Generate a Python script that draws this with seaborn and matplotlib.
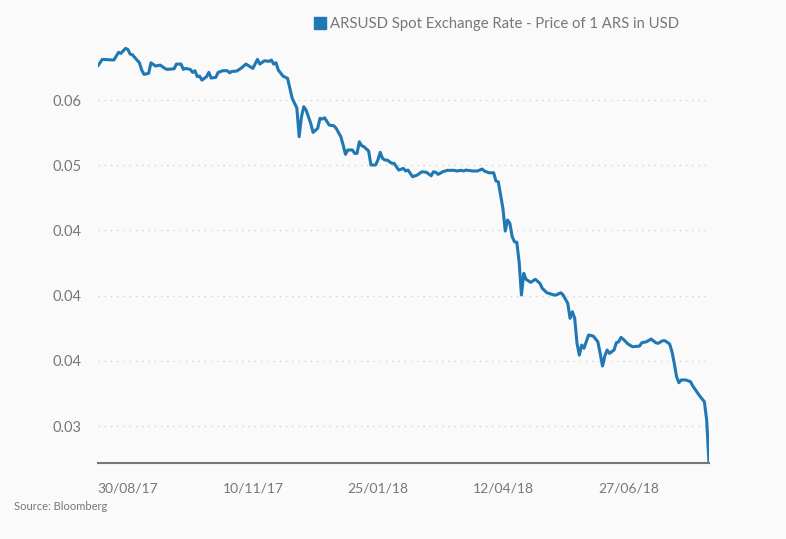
import matplotlib
matplotlib.use("Agg")
import matplotlib.pyplot as plt
from matplotlib.lines import Line2D
from matplotlib.ticker import FormatStrFormatter
import seaborn as sns
import pandas as pd

# trading-day number (0 = 30/08/17) and price of 1 ARS in USD
day = [0, 2, 7, 9, 10, 12, 13, 14, 15, 18, 19, 20, 22, 23, 25, 27, 29, 30, 33, 34,
       36, 37, 38, 40, 41, 42, 43, 44, 45, 47, 48, 49, 51, 52, 54, 56, 57, 58, 60, 62,
       64, 67, 69, 70, 72, 74, 75, 76, 77, 78, 80, 82, 83, 84, 86, 87, 88, 89, 90, 92,
       93, 95, 96, 97, 98, 100, 102, 103, 105, 106, 107, 108, 110, 111, 112, 113, 114, 115, 117, 118,
       120, 121, 122, 123, 124, 125, 126, 127, 128, 130, 132, 133, 134, 135, 136, 138, 140, 142, 144, 145,
       146, 147, 149, 151, 154, 155, 157, 158, 159, 162, 164, 166, 167, 169, 171, 172, 173, 174, 175, 176,
       177, 178, 179, 180, 181, 182, 183, 184, 185, 187, 189, 191, 192, 194, 197, 198, 200, 201, 203, 204,
       205, 206, 207, 208, 209, 210, 211, 212, 214, 216, 217, 218, 219, 220, 221, 223, 224, 225, 226, 227,
       229, 231, 234, 235, 237, 239, 241, 242, 244, 245, 247, 248, 249, 250, 251, 252, 254, 256, 257, 259,
       260, 262, 263, 264]
rate = [0.05761, 0.05812, 0.05807, 0.05866, 0.05858, 0.05896, 0.05889, 0.05853, 0.05847, 0.05786,
        0.05730, 0.05697, 0.05705, 0.05786, 0.05761, 0.05768, 0.05743, 0.05735, 0.05740, 0.05776,
        0.05776, 0.05735, 0.05743, 0.05735, 0.05712, 0.05725, 0.05679, 0.05684, 0.05653, 0.05679,
        0.05712, 0.05669, 0.05674, 0.05712, 0.05725, 0.05725, 0.05709, 0.05720, 0.05722, 0.05745,
        0.05776, 0.05743, 0.05812, 0.05776, 0.05801, 0.05797, 0.05807, 0.05776, 0.05786, 0.05730,
        0.05684, 0.05666, 0.05590, 0.05513, 0.05439, 0.05219, 0.05372, 0.05449, 0.05423, 0.05321,
        0.05252, 0.05283, 0.05360, 0.05354, 0.05364, 0.05308, 0.05303, 0.05283, 0.05219, 0.05155,
        0.05084, 0.05117, 0.05117, 0.05091, 0.05091, 0.05180, 0.05150, 0.05142, 0.05109, 0.05002,
        0.05002, 0.05040, 0.05099, 0.05053, 0.05040, 0.05040, 0.05027, 0.05015, 0.05015, 0.04963,
        0.04976, 0.04956, 0.04963, 0.04938, 0.04912, 0.04925, 0.04950, 0.04946, 0.04919, 0.04950,
        0.04946, 0.04930, 0.04950, 0.04961, 0.04961, 0.04956, 0.04961, 0.04956, 0.04963, 0.04956,
        0.04956, 0.04971, 0.04956, 0.04942, 0.04942, 0.04879, 0.04873, 0.04771, 0.04669, 0.04495,
        0.04580, 0.04554, 0.04452, 0.04413, 0.04409, 0.04260, 0.04005, 0.04171, 0.04125, 0.04102,
        0.04125, 0.04094, 0.04056, 0.04022, 0.04005, 0.04005, 0.04022, 0.04005, 0.03941, 0.03826,
        0.03876, 0.03826, 0.03634, 0.03544, 0.03621, 0.03596, 0.03646, 0.03698, 0.03690, 0.03646,
        0.03557, 0.03460, 0.03537, 0.03583, 0.03557, 0.03583, 0.03639, 0.03646, 0.03680, 0.03665,
        0.03629, 0.03608, 0.03613, 0.03639, 0.03646, 0.03667, 0.03639, 0.03634, 0.03654, 0.03654,
        0.03629, 0.03570, 0.03481, 0.03378, 0.03332, 0.03353, 0.03353, 0.03340, 0.03307, 0.03255,
        0.03230, 0.03186, 0.03046, 0.02714]

tick_days = [0, 54, 108, 162, 216]
tick_labels = ["30/08/17", "10/11/17", "25/01/18", "12/04/18", "27/06/18"]
y_ticks = [0.055, 0.050, 0.045, 0.040, 0.035, 0.030]

series_name = "ARSUSD Spot Exchange Rate - Price of 1 ARS in USD"
line_color = "#1f77b4"
text_color = "#777777"

sns.set_theme(style="white")
plt.rcParams["font.family"] = ["Lato", "DejaVu Sans"]

df = pd.DataFrame({"day": day, "rate": rate})

fig = plt.figure(figsize=(7.86, 5.39), dpi=100, facecolor="#fafafa")
ax = fig.add_axes([97.7 / 786, 1 - 463.3 / 539, (709 - 97.7) / 786, (463.3 - 45.3) / 539])
ax.set_facecolor("#fafafa")

sns.lineplot(data=df, x="day", y="rate", ax=ax, color=line_color, linewidth=2.2)

ax.set_xlim(0, max(day))
ax.set_ylim(min(rate), 0.0592)

ax.set_yticks(y_ticks)
ax.yaxis.set_major_formatter(FormatStrFormatter("%.2f"))
ax.set_xticks(tick_days)
ax.set_xticklabels(tick_labels, ha="left")
ax.tick_params(axis="y", length=0, pad=11.5, labelsize=10.5, labelcolor=text_color)
ax.tick_params(axis="x", length=4, width=0.8, color="#dddddd", pad=10,
               labelsize=10, labelcolor=text_color)

ax.grid(axis="y", color="#cccccc", linestyle=(0, (1, 4)), linewidth=0.9)
ax.grid(axis="x", visible=False)
for side in ["top", "right", "left"]:
    ax.spines[side].set_visible(False)
ax.spines["bottom"].set_color("#777777")
ax.spines["bottom"].set_linewidth(1.5)
ax.set_xlabel("")
ax.set_ylabel("")

handle = Line2D([], [], linestyle="none", marker="s", markersize=8.5, color=line_color)
fig.legend([handle], [series_name], loc="center left", bbox_to_anchor=(314 / 786, 1 - 24 / 539),
           frameon=False, fontsize=10.7, labelcolor=text_color, handlelength=0.8,
           handletextpad=0.3, borderpad=0, borderaxespad=0)

fig.text(14 / 786, 1 - 507 / 539, "Source: Bloomberg", fontsize=8, color=text_color, va="center")

fig.savefig("out.png", dpi=100, facecolor=fig.get_facecolor())
